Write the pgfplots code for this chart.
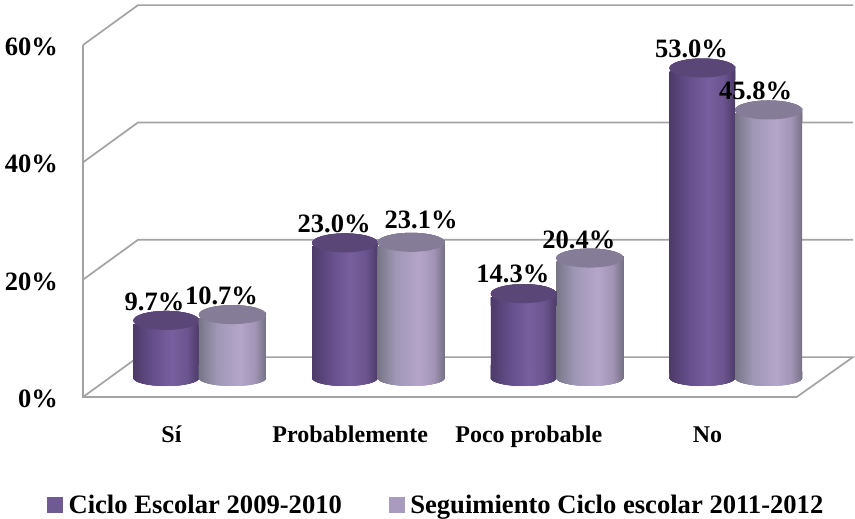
\documentclass[border=0pt]{standalone}
\usepackage{pgfplots}
\pgfplotsset{compat=1.18}
\usepackage{pgfplotstable}
\usepackage{fontspec}
\setmainfont{Liberation Serif}
\definecolor{wallgray}{HTML}{A3A3A3}
\definecolor{capA}{HTML}{5B4777}
\definecolor{capB}{HTML}{857C98}
\definecolor{swA}{HTML}{6F5A93}
\definecolor{swB}{HTML}{A99BC0}
\pgfdeclarehorizontalshading{cylA}{100bp}{rgb(0bp)=(0.30,0.23,0.41);rgb(25bp)=(0.30,0.23,0.41);rgb(40bp)=(0.40,0.31,0.55);rgb(54bp)=(0.47,0.37,0.62);rgb(66bp)=(0.42,0.33,0.56);rgb(75bp)=(0.30,0.23,0.41);rgb(100bp)=(0.30,0.23,0.41)}
\pgfdeclarehorizontalshading{cylB}{100bp}{rgb(0bp)=(0.47,0.46,0.53);rgb(25bp)=(0.47,0.46,0.53);rgb(38bp)=(0.62,0.59,0.71);rgb(56bp)=(0.71,0.65,0.79);rgb(67bp)=(0.63,0.58,0.71);rgb(75bp)=(0.46,0.44,0.52);rgb(100bp)=(0.46,0.44,0.52)}
\pgfdeclareplotmark{baseA}{\path[draw=none,shade,shading=cylA] (-32.75pt,10pt) -- (32.75pt,3.5pt) -- (32.75pt,-3.5pt) -- (-32.75pt,-3.5pt) -- cycle;
  \path[draw=none,shade,shading=cylA,rotate around={5:(0pt,-3pt)}] (0pt,-3pt) ellipse (32.85pt and 8pt);}
\pgfdeclareplotmark{baseB}{\path[draw=none,shade,shading=cylB] (-33.5pt,10pt) -- (33.5pt,3.5pt) -- (33.5pt,-3.5pt) -- (-33.5pt,-3.5pt) -- cycle;
  \path[draw=none,shade,shading=cylB,rotate around={5:(0pt,-3pt)}] (0pt,-3pt) ellipse (33.6pt and 8pt);}
\pgfdeclareplotmark{topA}{\path[draw=none,shade,shading=cylA] (-32.75pt,-6pt) -- (32.75pt,0pt) -- (32.75pt,-14pt) -- (-32.75pt,-14pt) -- cycle;
  \path[draw=none,fill=capA,rotate around={5:(0pt,-2pt)}] (0pt,-2pt) ellipse (32.85pt and 9.5pt);}
\pgfdeclareplotmark{topB}{\path[draw=none,shade,shading=cylB] (-33.5pt,-6pt) -- (33.5pt,0pt) -- (33.5pt,-14pt) -- (-33.5pt,-14pt) -- cycle;
  \path[draw=none,fill=capB,rotate around={5:(0pt,-2pt)}] (0pt,-2pt) ellipse (33.6pt and 9.5pt);}
\pgfplotstableread{
x y dx dy
0 9.7 -11 16.5
1 23.0 -10 17
2 14.3 -10 17.5
3 53.0 -10 17.5
}\ciclo
\pgfplotstableread{
x y dx dy
0 10.7 -11 16.5
1 23.1 10 20.5
2 20.4 -11 16.5
3 45.8 -13 17.5
}\seguimiento
\begin{document}
\begin{tikzpicture}
\path[use as bounding box] (0pt,0pt) rectangle (855pt,519pt);
% front plane: ticks, walls and floor
\begin{axis}[
  at={(83pt,122pt)}, anchor=south west, scale only axis,
  width=770pt, height=352pt,
  xmin=-0.649, xmax=3.660, ymin=0, ymax=60, clip=false,
  axis lines=left, axis line style={draw=none,-},
  major tick length=0pt,
  xtick={0,1,2,3}, xticklabels={Sí,Probablemente,Poco probable,No},
  ytick={0,20,40,60}, yticklabels={0\%,20\%,40\%,60\%},
  xticklabel style={anchor=base,font=\bfseries\fontsize{24}{26}\selectfont,xshift=-27.5pt,yshift=-46pt},
  yticklabel style={anchor=east,inner sep=0pt,font=\bfseries\fontsize{26.5}{28}\selectfont,xshift=-25pt,yshift=-2pt},
]
\addplot[wallgray,line width=1.7pt] coordinates {(-0.649,60) (-0.341,66.8) (3.660,66.8)};
\addplot[wallgray,line width=1.7pt] coordinates {(-0.649,40) (-0.341,46.8) (3.660,46.8)};
\addplot[wallgray,line width=1.7pt] coordinates {(-0.649,20) (-0.341,26.8) (3.660,26.8)};
\addplot[wallgray,line width=1.7pt] coordinates {(-0.649,60) (-0.649,0) (3.345,0) (3.660,6.8) (-0.341,6.8) (-0.649,0)};
\end{axis}
% cylinders
\begin{axis}[
  at={(83pt,144pt)}, anchor=south west, scale only axis,
  width=770pt, height=349.8pt,
  xmin=-0.649, xmax=3.660, ymin=0, ymax=60, clip=false,
  hide axis,
  legend style={at={(-0.0468,-0.3716)},anchor=west,draw=none,fill=none,inner sep=0pt,
    font=\bfseries\fontsize{26.6}{28}\selectfont,legend columns=2,
    /tikz/every even column/.style={column sep=47pt},
    nodes={inner sep=0pt,anchor=west}},
  legend cell align=left,
]
% bars: each cylinder is one plot, so that each has its own shading
\pgfplotsinvokeforeach{0,1,2,3}{
  \addplot[only marks,mark=baseA,forget plot,restrict x to domain=#1:#1,x filter/.expression={x-0.1833}] table[x=x,y expr=0] {\ciclo};
  \addplot[ybar,bar width=65.5pt,bar shift=-32.75pt,draw=none,shade,shading=cylA,forget plot,restrict x to domain=#1:#1,y filter/.expression={y-1.0}] table[x=x,y=y] {\ciclo};
  \addplot[only marks,mark=topA,forget plot,restrict x to domain=#1:#1,x filter/.expression={x-0.1833}] table[x=x,y=y] {\ciclo};
}
\pgfplotsinvokeforeach{0,1,2,3}{
  \addplot[only marks,mark=baseB,forget plot,restrict x to domain=#1:#1,x filter/.expression={x+0.1875}] table[x=x,y expr=0] {\seguimiento};
  \addplot[ybar,bar width=67pt,bar shift=33.5pt,draw=none,shade,shading=cylB,forget plot,restrict x to domain=#1:#1,y filter/.expression={y-1.0}] table[x=x,y=y] {\seguimiento};
  \addplot[only marks,mark=topB,forget plot,restrict x to domain=#1:#1,x filter/.expression={x+0.1875}] table[x=x,y=y] {\seguimiento};
}
% data labels
\addplot[only marks,mark=none,draw=none,forget plot,x filter/.expression={x-0.1875},
  point meta=y,
  visualization depends on=\thisrow{dx}\as\dxv,
  visualization depends on=\thisrow{dy}\as\dyv,
  nodes near coords={\pgfmathprintnumber[fixed,fixed zerofill,precision=1,assume math mode=true]{\pgfplotspointmeta}\%},
  nodes near coords style={anchor=center,inner sep=0pt,text=black,font=\bfseries\fontsize{26.5}{28}\selectfont,xshift=\dxv pt,yshift=\dyv pt}] table[x=x,y=y] {\ciclo};
\addplot[only marks,mark=none,draw=none,forget plot,x filter/.expression={x+0.1875},
  point meta=y,
  visualization depends on=\thisrow{dx}\as\dxv,
  visualization depends on=\thisrow{dy}\as\dyv,
  nodes near coords={\pgfmathprintnumber[fixed,fixed zerofill,precision=1,assume math mode=true]{\pgfplotspointmeta}\%},
  nodes near coords style={anchor=center,inner sep=0pt,text=black,font=\bfseries\fontsize{26.5}{28}\selectfont,xshift=\dxv pt,yshift=\dyv pt}] table[x=x,y=y] {\seguimiento};
\addlegendimage{legend image code/.code={\fill[swA] (0pt,-7.5pt) rectangle (15pt,7.5pt);\path (21pt,0pt);}}
\addlegendentry{Ciclo Escolar 2009-2010}
\addlegendimage{legend image code/.code={\fill[swB] (0pt,-7.5pt) rectangle (15pt,7.5pt);\path (21pt,0pt);}}
\addlegendentry{Seguimiento Ciclo escolar 2011-2012}
\end{axis}
\end{tikzpicture}
\end{document}
